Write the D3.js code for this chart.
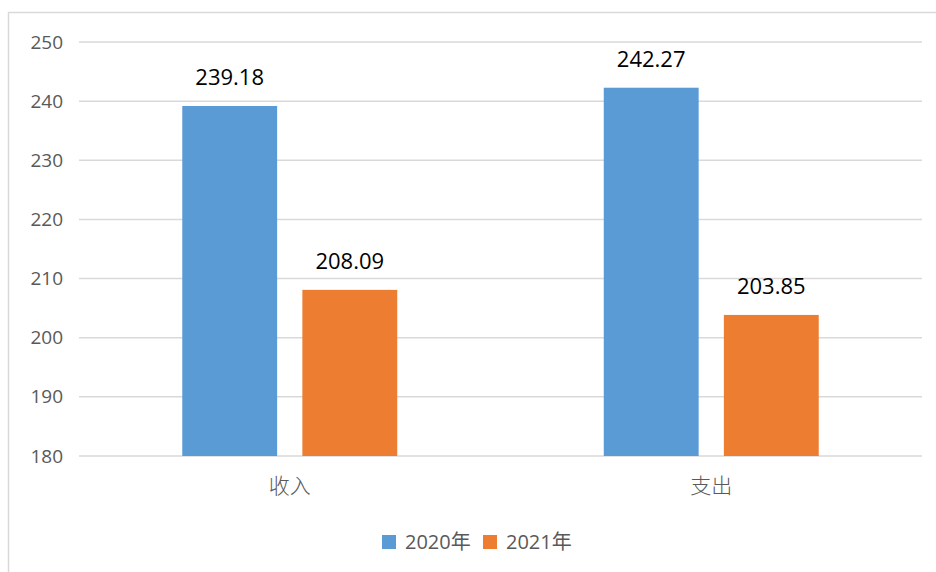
<!DOCTYPE html>
<html>
<head>
<meta charset="utf-8">
<script src="https://cdn.jsdelivr.net/npm/d3@7"></script>
<style>
  body { margin: 0; background: #fff; }
  svg { display: block; font-family: "Open Sans", "Noto Sans CJK SC", sans-serif; }
</style>
</head>
<body>
<div id="chart"></div>
<script>
// chart data
const categories = ['收入', '支出'];
const seriesNames = ['2020年', '2021年'];
const values2020 = [239.18, 242.27];
const values2021 = [208.09, 203.85];
const yTicks = [180, 190, 200, 210, 220, 230, 240, 250];
const colors = ['#5B9BD5', '#ED7D31'];

const svgWidth = 936, svgHeight = 572;
const margin = { top: 42, right: 14, bottom: 116, left: 79 };

const svg = d3.select('#chart')
  .append('svg')
  .attr('width', svgWidth)
  .attr('height', svgHeight);

// outer frame (only left and top visible)
svg.append('rect')
  .attr('x', 8.5)
  .attr('y', 12.5)
  .attr('width', svgWidth + 20)
  .attr('height', svgHeight + 20)
  .attr('fill', 'none')
  .attr('stroke', '#D9D9D9')
  .attr('stroke-width', 1.5);

const x0 = d3.scaleBand()
  .domain(categories)
  .range([margin.left, svgWidth - margin.right])
  .paddingInner(0.49)
  .paddingOuter(0.245);

const x1 = d3.scaleBand()
  .domain(seriesNames)
  .range([0, x0.bandwidth()])
  .paddingInner(0.21);

const y = d3.scaleLinear()
  .domain([180, 250])
  .range([svgHeight - margin.bottom, margin.top]);

// gridlines
svg.append('g')
  .selectAll('line')
  .data(yTicks)
  .enter().append('line')
  .attr('x1', margin.left)
  .attr('x2', svgWidth - margin.right)
  .attr('y1', d => y(d))
  .attr('y2', d => y(d))
  .attr('stroke', '#D9D9D9')
  .attr('stroke-width', 1.5);

// y axis labels
const yAxis = svg.append('g')
  .attr('transform', 'translate(' + (margin.left - 16) + ',0)')
  .call(d3.axisLeft(y).tickValues(yTicks).tickSize(0).tickPadding(0));
yAxis.select('.domain').remove();
yAxis.selectAll('text')
  .style('font-size', '19px')
  .style('fill', '#595959')
  .style('font-family', '"Open Sans", sans-serif');

// x axis labels
const xAxis = svg.append('g')
  .attr('transform', 'translate(0,' + (svgHeight - margin.bottom) + ')')
  .call(d3.axisBottom(x0).tickSize(0).tickPadding(22));
xAxis.select('.domain').remove();
xAxis.selectAll('text')
  .style('font-size', '21px')
  .style('font-weight', '300')
  .style('fill', '#595959')
  .style('font-family', '"Noto Sans CJK SC", sans-serif');

const data = categories.map((c, i) => ({
  cat: c,
  vals: [values2020[i], values2021[i]]
}));

const groups = svg.append('g')
  .selectAll('g')
  .data(data)
  .enter().append('g')
  .attr('transform', d => 'translate(' + x0(d.cat) + ',0)');

groups.selectAll('rect')
  .data(d => d.vals.map((v, j) => ({ name: seriesNames[j], v: v, j: j })))
  .enter().append('rect')
  .attr('x', d => x1(d.name))
  .attr('width', x1.bandwidth())
  .attr('y', d => y(d.v))
  .attr('height', d => y(180) - y(d.v))
  .attr('fill', d => colors[d.j]);

// data labels
groups.selectAll('text')
  .data(d => d.vals.map((v, j) => ({ name: seriesNames[j], v: v })))
  .enter().append('text')
  .attr('x', d => x1(d.name) + x1.bandwidth() / 2)
  .attr('y', d => y(d.v) - 21)
  .attr('text-anchor', 'middle')
  .style('font-size', '22px')
  .style('fill', '#000')
  .text(d => d.v.toFixed(2));

// legend
const legend = svg.append('g').attr('transform', 'translate(382,535)');
const legendX = [0, 101];
seriesNames.forEach((s, i) => {
  const g = legend.append('g').attr('transform', 'translate(' + legendX[i] + ',0)');
  g.append('rect')
    .attr('width', 14)
    .attr('height', 14)
    .attr('fill', colors[i]);
  g.append('text')
    .attr('x', 23)
    .attr('y', 14)
    .style('font-size', '20px')
    .style('fill', '#595959')
    .text(s);
});
</script>
</body>
</html>
